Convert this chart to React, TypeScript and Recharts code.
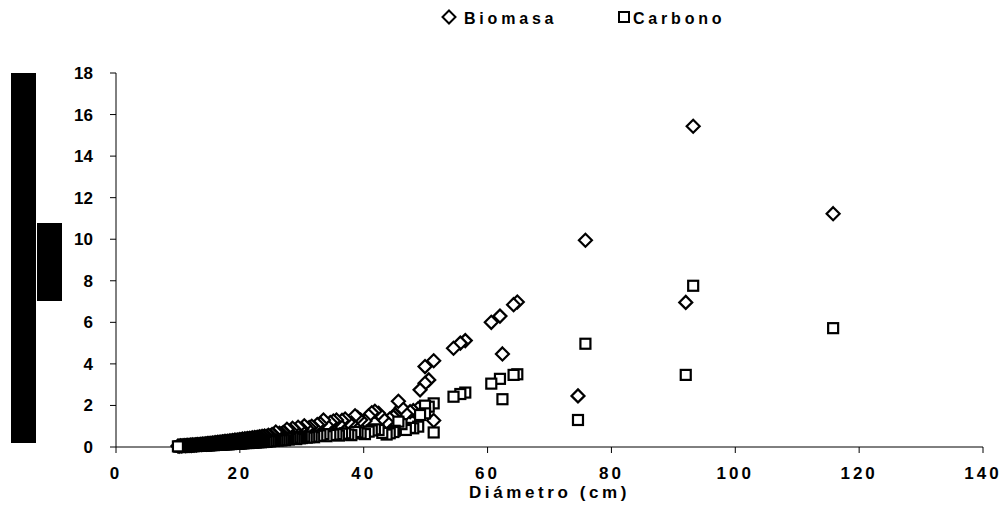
import React from 'react';
import { ScatterChart, Scatter, XAxis, YAxis } from 'recharts';

const diametro = [
  10.0, 10.2, 10.4, 10.6, 10.8, 11.0, 11.2, 11.4, 11.6, 11.8,
  12.0, 12.2, 12.4, 12.6, 12.8, 13.0, 13.2, 13.4, 13.6, 13.8,
  14.0, 14.2, 14.4, 14.6, 14.8, 15.0, 15.2, 15.4, 15.6, 15.8,
  16.0, 16.2, 16.4, 16.6, 16.8, 17.0, 17.2, 17.4, 17.6, 17.8,
  18.0, 18.2, 18.4, 18.6, 18.8, 19.0, 19.2, 19.4, 19.6, 19.8,
  20.0, 20.2, 20.4, 20.6, 20.8, 21.0, 21.2, 21.4, 21.6, 21.8,
  22.0, 22.2, 22.4, 22.6, 22.8, 23.0, 23.2, 23.4, 23.6, 23.8,
  24.0, 24.3, 24.6, 24.9, 25.2, 25.5, 25.8, 26.1, 26.4, 26.7,
  27.0, 27.3, 27.6, 27.9, 28.2, 28.5, 28.8, 29.1, 29.4, 29.7,
  30.0, 30.4, 30.8, 31.2, 31.6, 32.0, 32.5, 33.0, 33.5, 34.0,
  34.6, 35.1, 35.6, 36.0, 36.5, 37.0, 37.5, 38.0, 38.6, 39.0,
  39.5, 40.2, 40.8, 41.3, 41.8, 42.4, 43.0, 43.7, 44.2, 44.8,
  45.0, 45.6, 46.1, 46.8, 47.5, 48.0, 48.8, 49.1, 49.9, 49.9,
  50.5, 51.3, 51.3, 54.5, 55.6, 56.4, 60.6, 62.0, 62.4, 64.2,
  64.8, 74.6, 75.8, 92.0, 93.2, 115.8,
];

const biomasa = [
  0.05, 0.04, 0.06, 0.05, 0.06, 0.07, 0.06, 0.07, 0.08, 0.07,
  0.09, 0.08, 0.10, 0.09, 0.11, 0.10, 0.12, 0.11, 0.13, 0.12,
  0.14, 0.13, 0.15, 0.14, 0.17, 0.16, 0.18, 0.17, 0.19, 0.18,
  0.21, 0.19, 0.22, 0.21, 0.24, 0.22, 0.25, 0.24, 0.27, 0.25,
  0.28, 0.26, 0.30, 0.28, 0.31, 0.29, 0.33, 0.31, 0.34, 0.32,
  0.36, 0.34, 0.38, 0.35, 0.39, 0.37, 0.41, 0.38, 0.42, 0.40,
  0.44, 0.41, 0.46, 0.43, 0.47, 0.45, 0.49, 0.46, 0.51, 0.48,
  0.53, 0.50, 0.56, 0.54, 0.60, 0.57, 0.72, 0.62, 0.66, 0.64,
  0.70, 0.66, 0.85, 0.72, 0.78, 0.90, 0.80, 0.76, 0.95, 0.84,
  0.86, 1.02, 0.90, 0.94, 1.00, 0.93, 1.08, 1.12, 1.30, 1.05,
  1.18, 1.25, 1.30, 1.10, 1.28, 1.35, 1.20, 1.15, 1.50, 1.42,
  1.30, 1.25, 1.50, 1.65, 1.72, 1.62, 1.40, 1.20, 1.35, 1.45,
  1.55, 2.20, 1.90, 1.60, 1.70, 1.75, 1.85, 2.75, 3.07, 3.87,
  3.23, 4.15, 1.28, 4.75, 5.00, 5.12, 6.00, 6.30, 4.48, 6.85,
  6.98, 2.46, 9.95, 6.96, 15.44, 11.23,
];

const carbono = [
  0.03, 0.02, 0.03, 0.03, 0.03, 0.04, 0.03, 0.04, 0.04, 0.04,
  0.05, 0.04, 0.05, 0.05, 0.06, 0.05, 0.06, 0.06, 0.07, 0.06,
  0.07, 0.07, 0.08, 0.07, 0.09, 0.08, 0.09, 0.09, 0.10, 0.09,
  0.11, 0.10, 0.11, 0.11, 0.12, 0.11, 0.13, 0.12, 0.14, 0.13,
  0.14, 0.13, 0.15, 0.14, 0.16, 0.15, 0.17, 0.16, 0.17, 0.16,
  0.18, 0.17, 0.19, 0.18, 0.20, 0.19, 0.21, 0.19, 0.21, 0.20,
  0.22, 0.21, 0.23, 0.22, 0.24, 0.23, 0.25, 0.23, 0.26, 0.24,
  0.27, 0.25, 0.28, 0.27, 0.30, 0.29, 0.36, 0.31, 0.33, 0.32,
  0.35, 0.33, 0.43, 0.36, 0.39, 0.45, 0.40, 0.38, 0.48, 0.42,
  0.43, 0.50, 0.45, 0.47, 0.50, 0.47, 0.54, 0.56, 0.62, 0.52,
  0.58, 0.60, 0.62, 0.55, 0.64, 0.66, 0.60, 0.57, 0.72, 0.70,
  0.65, 0.62, 0.74, 0.80, 0.85, 0.82, 0.68, 0.60, 0.66, 0.72,
  0.78, 1.22, 1.10, 0.82, 0.92, 0.90, 0.98, 1.54, 1.62, 1.99,
  1.94, 2.10, 0.70, 2.42, 2.55, 2.62, 3.05, 3.28, 2.30, 3.47,
  3.50, 1.30, 4.97, 3.47, 7.76, 5.72,
];

const xTicks = [0, 20, 40, 60, 80, 100, 120, 140];
const yTicks = [0, 2, 4, 6, 8, 10, 12, 14, 16, 18];

// drawn from largest to smallest diameter, so the small trees lie on top
const biomasaData = diametro.map((d, i) => ({ x: d, y: biomasa[i] })).reverse();
const carbonoData = diametro.map((d, i) => ({ x: d, y: carbono[i] })).reverse();

const FONT = '"Liberation Sans", Arial, sans-serif';

const Diamond = (props: any) => {
  const { cx, cy } = props;
  if (cx == null || cy == null) return null;
  const r = 6.5;
  return (
    <path
      d={`M${cx},${cy - r}L${cx + r},${cy}L${cx},${cy + r}L${cx - r},${cy}Z`}
      fill="#fff"
      stroke="#000"
      strokeWidth={2.2}
    />
  );
};

const Square = (props: any) => {
  const { cx, cy } = props;
  if (cx == null || cy == null) return null;
  const h = 5;
  return (
    <rect x={cx - h} y={cy - h} width={2 * h} height={2 * h} fill="#fff" stroke="#000" strokeWidth={2.2} />
  );
};

export default function App() {
  return (
    <div
      style={{
        position: 'absolute',
        left: 0,
        top: 0,
        width: 1001,
        height: 527,
        background: '#fff',
        fontFamily: FONT,
      }}
    >
      <ScatterChart width={1001} height={527} margin={{ top: 73, right: 18, bottom: 20, left: 56 }}>
        <XAxis
          type="number"
          dataKey="x"
          domain={[0, 140]}
          ticks={xTicks}
          interval={0}
          height={60}
          tickSize={6}
          tickMargin={14}
          axisLine={{ stroke: '#000', strokeWidth: 1 }}
          tickLine={{ stroke: '#000', strokeWidth: 1 }}
          tick={{ fill: '#000', fontSize: 17, fontWeight: 700, fontFamily: FONT, letterSpacing: 3 }}
          label={{
            value: 'Diámetro (cm)',
            position: 'insideBottom',
            offset: 9,
            style: { fill: '#000', fontSize: 17, fontWeight: 700, fontFamily: FONT, letterSpacing: 3.6 },
          }}
        />
        <YAxis
          type="number"
          dataKey="y"
          domain={[0, 18]}
          ticks={yTicks}
          interval={0}
          width={60}
          tickSize={6}
          tickMargin={17}
          axisLine={{ stroke: '#000', strokeWidth: 1 }}
          tickLine={{ stroke: '#000', strokeWidth: 1 }}
          tick={{ fill: '#000', fontSize: 17, fontWeight: 700, fontFamily: FONT }}
        />
        <Scatter name="Biomasa" data={biomasaData} shape={(p: any) => <Diamond {...p} />} isAnimationActive={false} />
        <Scatter name="Carbono" data={carbonoData} shape={(p: any) => <Square {...p} />} isAnimationActive={false} />
      </ScatterChart>

      {/* legend */}
      <svg width={1001} height={40} style={{ position: 'absolute', left: 0, top: 0 }}>
        <path d="M449,10.5L455.5,17L449,23.5L442.5,17Z" fill="#fff" stroke="#000" strokeWidth={2} />
        <text x={464} y={23.5} fontSize={16} fontWeight={700} fontFamily={FONT} letterSpacing={3.8} fill="#000">
          Biomasa
        </text>
        <rect x={619} y={12} width={10} height={10} fill="#fff" stroke="#000" strokeWidth={2} />
        <text x={633} y={23.5} fontSize={16} fontWeight={700} fontFamily={FONT} letterSpacing={3.8} fill="#000">
          Carbono
        </text>
      </svg>

      {/* rotated y-axis title rendered as solid blocks in the original */}
      <div style={{ position: 'absolute', left: 11, top: 73, width: 25, height: 370, background: '#000' }} />
      <div style={{ position: 'absolute', left: 37, top: 223, width: 25, height: 78, background: '#000' }} />
    </div>
  );
}
